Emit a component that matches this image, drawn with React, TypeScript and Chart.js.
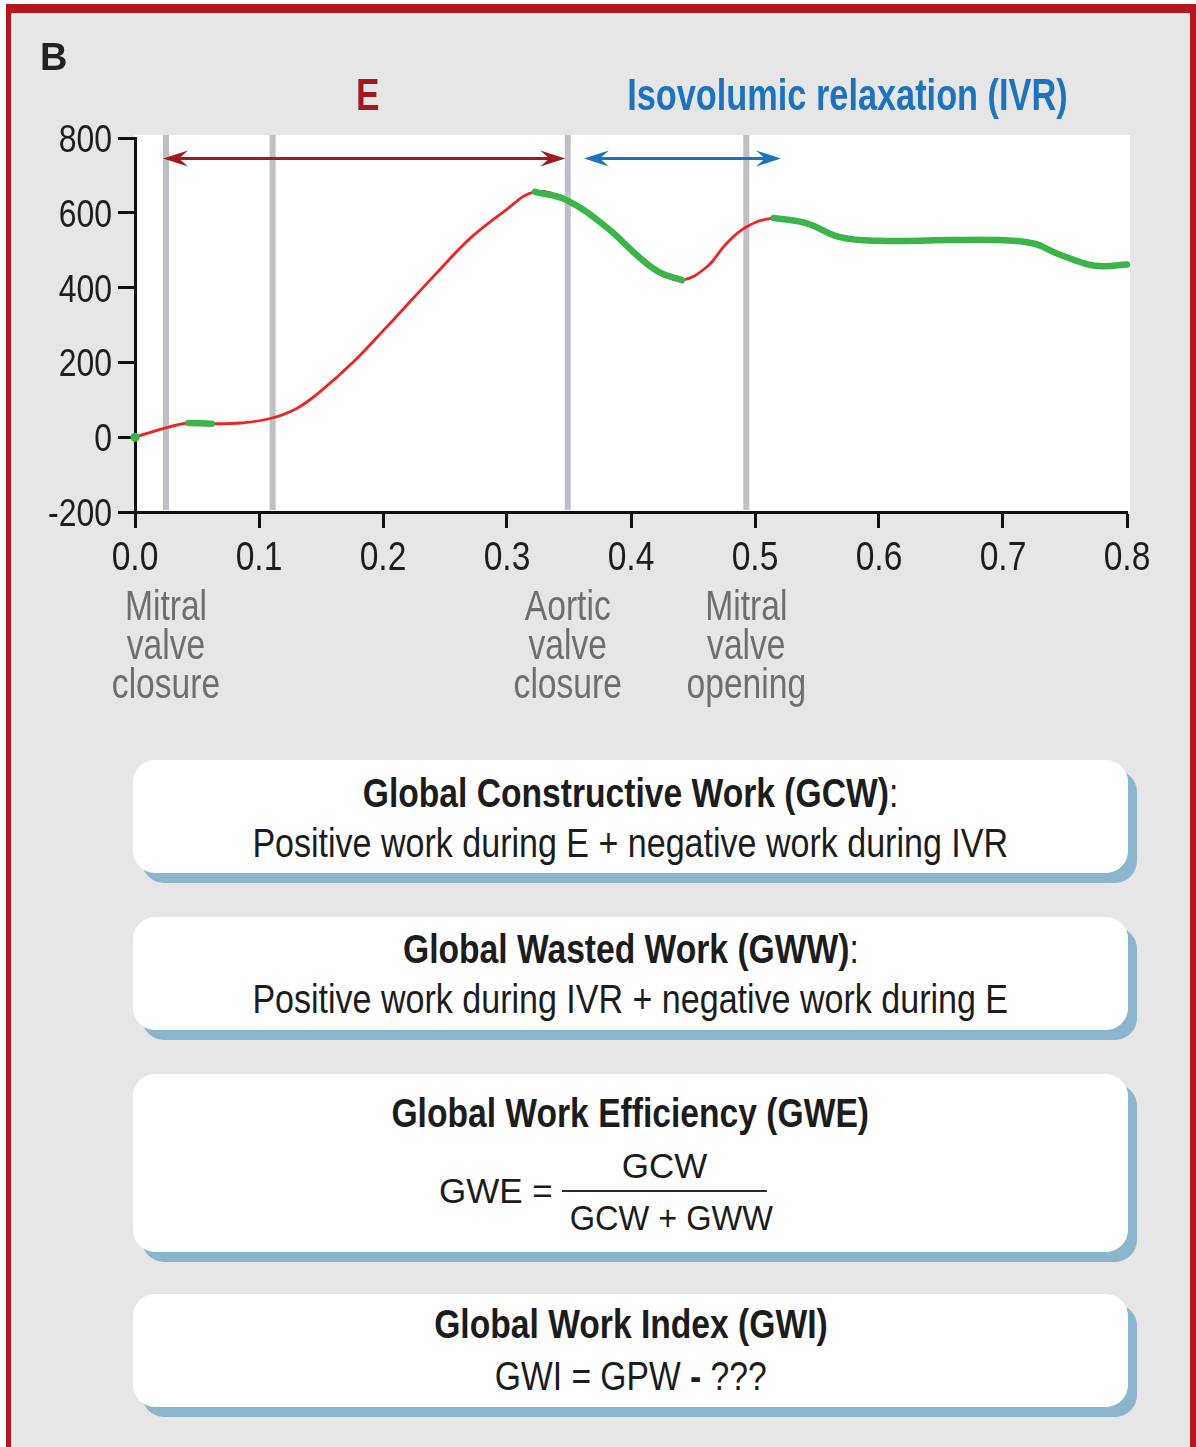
import React, { useEffect, useRef } from "react";
import { Chart, registerables } from "chart.js";

Chart.register(...registerables);

// ---- data ----
const timeS = [0, 0.0228, 0.043, 0.062, 0.085, 0.109, 0.1304, 0.149, 0.176, 0.203, 0.2245, 0.243, 0.27, 0.297, 0.3226, 0.348, 0.38, 0.407, 0.4234, 0.441, 0.461, 0.477, 0.493, 0.515, 0.5417, 0.5685, 0.601, 0.6546, 0.695, 0.7245, 0.743, 0.7675, 0.781, 0.8];
const pressure = [0, 23, 38, 36, 38, 50, 77, 121, 201, 295, 372, 438, 531, 602, 656, 634, 562, 480, 440, 420, 455, 518, 562, 586, 572, 535, 525, 527, 527, 518, 492, 463, 457, 462];
const greenStarts = [0.043, 0.3226, 0.515];
const greenEnds = [0.062, 0.441, 0.8];
const xTickValues = [0, 0.1, 0.2, 0.3, 0.4, 0.5, 0.6, 0.7, 0.8];
const yTickValues = [-200, 0, 200, 400, 600, 800];
const eventTimes = [0.025, 0.111, 0.349, 0.493];
const eventLabels = [["Mitral", "valve", "closure"], [], ["Aortic", "valve", "closure"], ["Mitral", "valve", "opening"]];
const arrowStarts = [0.0226, 0.362];
const arrowEnds = [0.347, 0.521];
const arrowColors = ["#9e1b20", "#1b72c0"];
const arrowLevel = 745;

const SANS = '"Liberation Sans", Arial, Helvetica, sans-serif';
const K = 0.82; // horizontal condensing factor (Arial Narrow look)

const isGreen = (t: number) => greenStarts.some((s, i) => t >= s - 1e-9 && t <= greenEnds[i] + 1e-9);

function arrowHead(ctx: CanvasRenderingContext2D, tipX: number, y: number, dir: number) {
  const L = 25, W = 8, notch = 16;
  ctx.beginPath();
  ctx.moveTo(tipX, y);
  ctx.lineTo(tipX - dir * L, y - W);
  ctx.lineTo(tipX - dir * notch, y);
  ctx.lineTo(tipX - dir * L, y + W);
  ctx.closePath();
  ctx.fill();
}

function condText(ctx: CanvasRenderingContext2D, text: string, x: number, y: number, align: CanvasTextAlign, k = K) {
  ctx.save();
  ctx.translate(x, y);
  ctx.scale(k, 1);
  ctx.textAlign = align;
  ctx.textBaseline = "alphabetic";
  ctx.fillText(text, 0, 0);
  ctx.restore();
}

const decorPlugin = {
  id: "decor",
  beforeDraw(chart: any) {
    const { ctx, chartArea: a } = chart;
    ctx.save();
    ctx.fillStyle = "#ffffff";
    ctx.fillRect(a.left, a.top - 3, a.right - a.left + 3, a.bottom - a.top + 3);
    ctx.restore();
  },
  beforeDatasetsDraw(chart: any) {
    const { ctx, chartArea: a, scales } = chart;
    const xs = scales.x, ys = scales.y;
    ctx.save();
    ctx.strokeStyle = "#bfc0c5";
    ctx.lineWidth = 6;
    eventTimes.forEach((t) => {
      const px = xs.getPixelForValue(t);
      ctx.beginPath();
      ctx.moveTo(px, a.top - 3);
      ctx.lineTo(px, a.bottom - 2);
      ctx.stroke();
    });
    const py = ys.getPixelForValue(arrowLevel);
    arrowStarts.forEach((s, i) => {
      const x1 = xs.getPixelForValue(s);
      const x2 = xs.getPixelForValue(arrowEnds[i]);
      ctx.strokeStyle = arrowColors[i];
      ctx.fillStyle = arrowColors[i];
      ctx.lineWidth = 3;
      ctx.beginPath();
      ctx.moveTo(x1 + 10, py);
      ctx.lineTo(x2 - 10, py);
      ctx.stroke();
      arrowHead(ctx, x1, py, -1);
      arrowHead(ctx, x2, py, 1);
    });
    ctx.restore();
  },
  afterDraw(chart: any) {
    const { ctx, chartArea: a, scales } = chart;
    const xs = scales.x, ys = scales.y;
    ctx.save();
    // axis tick labels (condensed)
    ctx.fillStyle = "#1e1e1e";
    ctx.font = `41px ${SANS}`;
    xs.ticks.forEach((tk: any) => {
      condText(ctx, Number(tk.value).toFixed(1), xs.getPixelForValue(tk.value), a.bottom + 58, "center");
    });
    ctx.font = `38px ${SANS}`;
    ys.ticks.forEach((tk: any) => {
      condText(ctx, String(tk.value), a.left - 23, ys.getPixelForValue(tk.value) + 14, "right", 0.84);
    });
    // event labels
    ctx.fillStyle = "#6e6e6e";
    ctx.font = `42px ${SANS}`;
    eventTimes.forEach((t, i) => {
      const px = xs.getPixelForValue(t);
      eventLabels[i].forEach((line, j) => {
        condText(ctx, line, px, a.bottom + 108 + j * 39, "center", 0.8);
      });
    });
    ctx.restore();
  },
};

function PressureChart() {
  const ref = useRef<HTMLCanvasElement>(null);
  useEffect(() => {
    if (!ref.current) return;
    const redData = timeS.map((t, i) => ({ x: t, y: pressure[i] }));
    const greenData = timeS.map((t, i) => ({ x: t, y: i === 0 || isGreen(t) ? pressure[i] : null }));
    const hidden = "rgba(0,0,0,0)";
    const chart = new Chart(ref.current, {
      type: "line",
      data: {
        datasets: [
          {
            data: greenData as any,
            borderColor: "#3bb54a",
            backgroundColor: "#3bb54a",
            borderWidth: 6.5,
            borderCapStyle: "round",
            pointRadius: (c: any) => (c.dataIndex === 0 ? 4.5 : 0),
            pointBorderWidth: 0,
            tension: 0.4,
            spanGaps: false,
            order: 0,
            clip: 10,
          },
          {
            data: redData,
            borderColor: "#ee2424",
            borderWidth: 2.8,
            pointRadius: 0,
            tension: 0.4,
            order: 1,
            clip: 10,
          },
        ],
      },
      options: {
        animation: false,
        responsive: false,
        maintainAspectRatio: false,
        events: [],
        layout: { padding: { left: 0, top: 138, right: 69, bottom: 148 } },
        plugins: { legend: { display: false }, tooltip: { enabled: false } },
        scales: {
          x: {
            type: "linear",
            min: 0,
            max: 0.8,
            afterFit: (s: any) => { s.height = 60; },
            afterBuildTicks: (s: any) => { s.ticks = xTickValues.map((v) => ({ value: v })); },
            ticks: {
              callback: (v: any) => Number(v).toFixed(1),
              font: { family: SANS, size: 41 },
              color: hidden,
              padding: 6,
              maxRotation: 0,
              autoSkip: false,
            },
            grid: { drawOnChartArea: false, drawTicks: true, tickLength: 16, tickWidth: 3, tickColor: "#111" },
            border: { display: true, color: "#111", width: 3 },
          },
          y: {
            type: "linear",
            min: -200,
            max: 800,
            afterFit: (s: any) => { s.width = 135; },
            afterBuildTicks: (s: any) => { s.ticks = yTickValues.map((v) => ({ value: v })); },
            ticks: { font: { family: SANS, size: 38 }, color: hidden, padding: 5 },
            grid: { drawOnChartArea: false, drawTicks: true, tickLength: 17, tickWidth: 3, tickColor: "#111" },
            border: { display: true, color: "#111", width: 3 },
          },
        },
      },
      plugins: [decorPlugin],
    } as any);
    return () => chart.destroy();
  }, []);
  return <canvas ref={ref} width={1196} height={720} style={{ position: "absolute", left: 0, top: 0 }} />;
}

const abs = (o: any): React.CSSProperties => ({ position: "absolute", whiteSpace: "nowrap", ...o });

function Cond({ children, k }: any) {
  return <span style={{ display: "inline-block", transform: `scaleX(${k ?? K})`, transformOrigin: "50% 50%" }}>{children}</span>;
}

function Line({ top, size, bold, children, left, width, align, k, narrow }: any) {
  return (
    <div
      style={abs({
        top,
        left: left ?? 0,
        width: width ?? "100%",
        textAlign: align ?? "center",
        fontFamily: SANS,
        fontSize: size,
        lineHeight: `${size}px`,
        fontWeight: bold ? 700 : 400,
        color: "#1c1c1c",
      })}
    >
      {narrow === false ? children : <Cond k={k}>{children}</Cond>}
    </div>
  );
}

function Box({ top, height, children }: any) {
  return (
    <div
      style={abs({
        left: 133,
        top,
        width: 995,
        height,
        background: "#ffffff",
        borderRadius: 22,
        boxShadow: "9px 10px 0 #8bb5cc",
      })}
    >
      {children}
    </div>
  );
}

export default function App() {
  return (
    <div style={abs({ left: 0, top: 0, width: 1196, height: 1447, background: "#ffffff", overflow: "hidden" })}>
      <div
        style={abs({
          left: 6,
          top: 4,
          width: 1190,
          height: 1460,
          boxSizing: "border-box",
          borderTop: "9px solid #b3161d",
          borderLeft: "5px solid #b3161d",
          borderRight: "6px solid #b3161d",
          background: "#e6e6e6",
        })}
      />
      <div style={abs({ left: 0, top: 0, width: 1196, height: 1447 })}>
        <PressureChart />
        <div style={abs({ left: 40, top: 38, fontFamily: SANS, fontWeight: 700, fontSize: 38, lineHeight: "38px", color: "#222" })}>B</div>
        <div style={abs({ left: 268, top: 73, width: 200, textAlign: "center", fontFamily: SANS, fontWeight: 700, fontSize: 44, lineHeight: "44px", color: "#a3191f" })}>
          <Cond k={0.8}>E</Cond>
        </div>
        <div style={abs({ left: 447, top: 73, width: 800, textAlign: "center", fontFamily: SANS, fontWeight: 700, fontSize: 44, lineHeight: "44px", color: "#1e73be" })}>
          <Cond k={0.78}>Isovolumic relaxation (IVR)</Cond>
        </div>

        <Box top={760} height={113}>
          <Line top={13} size={41} bold>Global Constructive Work (GCW)<span style={{ fontWeight: 400 }}>:</span></Line>
          <Line top={63} size={41} k={0.83}>Positive work during E + negative work during IVR</Line>
        </Box>
        <Box top={917} height={113}>
          <Line top={12} size={41} bold>Global Wasted Work (GWW)<span style={{ fontWeight: 400 }}>:</span></Line>
          <Line top={62} size={41} k={0.83}>Positive work during IVR + negative work during E</Line>
        </Box>
        <Box top={1074} height={178}>
          <Line top={19} size={41} bold>Global Work Efficiency (GWE)</Line>
          <Line top={99} size={35} left={306} width={140} align="left" narrow={false}>GWE =</Line>
          <Line top={74} size={35} left={429} width={205} narrow={false}>GCW</Line>
          <div style={abs({ left: 429, top: 116, width: 205, height: 2, background: "#2a2a2a" })} />
          <Line top={126} size={35} left={429} width={205} k={0.93}>GCW + GWW</Line>
        </Box>
        <Box top={1294} height={113}>
          <Line top={10} size={41} bold>Global Work Index (GWI)</Line>
          <Line top={62} size={41}>GWI = GPW <b>-</b> ???</Line>
        </Box>
      </div>
    </div>
  );
}
